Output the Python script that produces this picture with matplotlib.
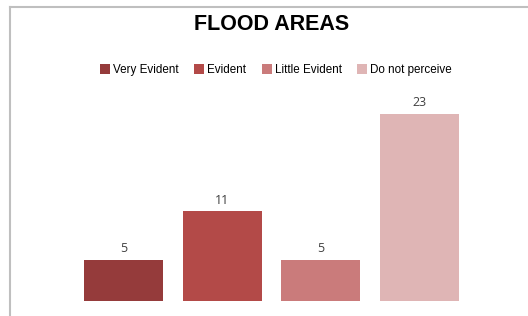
import matplotlib.pyplot as plt
from matplotlib.patches import Patch
from matplotlib.lines import Line2D

# datos del grafico
categorias = ["Very Evident", "Evident", "Little Evident", "Do not perceive"]
valores = [5, 11, 5, 23]
colores = ["#953B3B", "#B34A48", "#CA7B7B", "#DFB5B5"]

fuente = ["Liberation Sans Narrow", "Liberation Sans", "DejaVu Sans"]

fig = plt.figure(figsize=(5.28, 3.16), dpi=100)
ax = fig.add_axes([74/528, 1 - 300.7/316, 395/528, 203/316])

x = range(len(valores))
ax.bar(x, valores, width=0.8, color=colores)
for i, v in zip(x, valores):
    ax.annotate(str(v), (i, v), xytext=(0, 3.5), textcoords="offset points",
                ha="center", va="bottom", fontsize=9, color="#404040",
                family=["Open Sans", "DejaVu Sans"])

ax.set_xlim(-0.5, 3.5)
ax.set_ylim(0, 25)
ax.axis("off")

# titulo
fig.text(272/528, 1 - 24.5/316, "FLOOD AREAS", ha="center", va="center",
         fontsize=15.5, fontweight="bold", family=fuente)

# leyenda
handles = [Patch(facecolor=c, edgecolor="none") for c in colores]
fig.legend(handles, categorias, loc="center", bbox_to_anchor=(276/528, 1 - 70/316),
           ncol=4, frameon=False, prop={"family": fuente, "size": 8.4},
           handlelength=0.85, handleheight=0.85, handletextpad=0.25,
           columnspacing=1.35, borderpad=0)

# borde gris del area del grafico
fig.add_artist(Line2D([10/528, 1], [1 - 6.5/316] * 2, color="#BFBFBF", lw=1.5,
                      transform=fig.transFigure))
fig.add_artist(Line2D([10/528] * 2, [0, 1 - 6.5/316], color="#BFBFBF", lw=1.5,
                      transform=fig.transFigure))

fig.savefig("out.png", dpi=100)
